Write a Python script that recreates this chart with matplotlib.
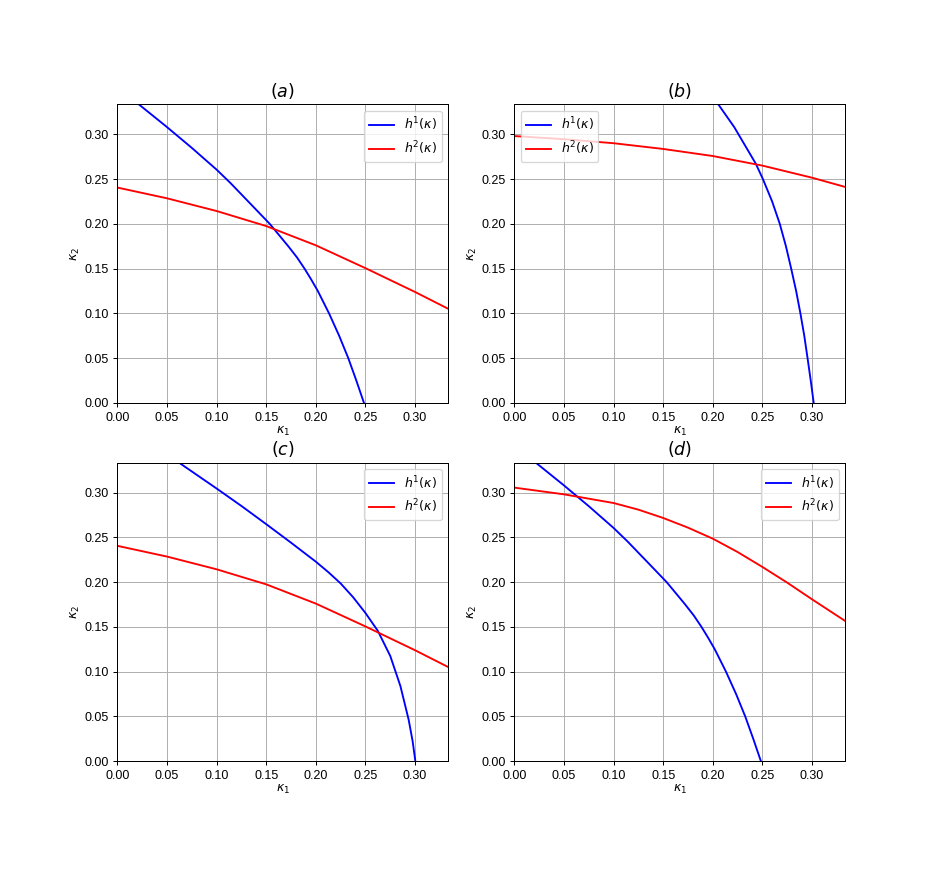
import matplotlib
matplotlib.use("Agg")
import matplotlib.pyplot as plt

plt.rcParams['font.family'] = ['Liberation Sans', 'DejaVu Sans']
plt.rcParams['mathtext.fontset'] = 'dejavusans'

# curve values
# h1 in panels (a) and (d)
h1_ad_x = [0.0217, 0.05, 0.075, 0.10, 0.114, 0.134, 0.1535, 0.1595, 0.1722, 0.1810, 0.1886,
           0.1955, 0.2020, 0.2133, 0.2235, 0.2327, 0.2408, 0.2485]
h1_ad_y = [0.3333, 0.308, 0.2848, 0.2605, 0.2455, 0.2225, 0.200, 0.192, 0.175, 0.1625, 0.150,
           0.1375, 0.125, 0.100, 0.075, 0.050, 0.025, 0.0]

# h2 in panels (a) and (c)
h2_ac_x = [0.0, 0.05, 0.10, 0.15, 0.20, 0.25, 0.30, 0.3333]
h2_ac_y = [0.2405, 0.2285, 0.2143, 0.1975, 0.1760, 0.1505, 0.1239, 0.1052]

# panel (b)
h1_b_x = [0.2056, 0.2216, 0.2433, 0.2505, 0.2598, 0.2675, 0.2737, 0.2790, 0.2840,
          0.2883, 0.2922, 0.2955, 0.2987, 0.3017]
h1_b_y = [0.3333, 0.308, 0.2672, 0.250, 0.225, 0.200, 0.175, 0.150, 0.125,
          0.100, 0.075, 0.050, 0.025, 0.0]
h2_b_x = [0.0, 0.05, 0.10, 0.15, 0.20, 0.25, 0.30, 0.3333]
h2_b_y = [0.298, 0.2945, 0.290, 0.2836, 0.2757, 0.2650, 0.2515, 0.2412]

# panel (c)
h1_c_x = [0.0622, 0.10, 0.125, 0.15, 0.175, 0.20, 0.2125, 0.225, 0.2375, 0.25, 0.2625,
          0.275, 0.2852, 0.2935, 0.2975, 0.3003]
h1_c_y = [0.3333, 0.3045, 0.2850, 0.2647, 0.2440, 0.2228, 0.2112, 0.1985, 0.1832, 0.1655,
          0.1455, 0.1175, 0.0840, 0.0465, 0.0225, 0.0]

# panel (d)
h2_d_x = [0.0, 0.05, 0.10, 0.125, 0.15, 0.175, 0.20, 0.225, 0.25, 0.275, 0.30, 0.3236, 0.3333]
h2_d_y = [0.3055, 0.298, 0.2883, 0.2809, 0.2716, 0.2608, 0.2485, 0.2336, 0.2169, 0.1994,
          0.1808, 0.1637, 0.1567]

panels = [
    ('$(a)$', (h1_ad_x, h1_ad_y), (h2_ac_x, h2_ac_y), 'upper right'),
    ('$(b)$', (h1_b_x, h1_b_y), (h2_b_x, h2_b_y), 'upper left'),
    ('$(c)$', (h1_c_x, h1_c_y), (h2_ac_x, h2_ac_y), 'upper right'),
    ('$(d)$', (h1_ad_x, h1_ad_y), (h2_d_x, h2_d_y), 'upper right'),
]
ticks = [0.0, 0.05, 0.10, 0.15, 0.20, 0.25, 0.30]
tick_labels = ['0.00', '0.05', '0.10', '0.15', '0.20', '0.25', '0.30']

fig, axes = plt.subplots(2, 2, figsize=(939 / 90, 870 / 90), dpi=90)
fig.subplots_adjust(left=0.125, right=0.9, top=0.88, bottom=0.125, hspace=0.2, wspace=0.2)

for ax, (title, h1, h2, loc) in zip(axes.flat, panels):
    ax.plot(h1[0], h1[1], color='blue', label=r'$h^1(\kappa)$')
    ax.plot(h2[0], h2[1], color='red', label=r'$h^2(\kappa)$')
    ax.set_xlim(0, 1 / 3)
    ax.set_ylim(0, 1 / 3)
    ax.set_xticks(ticks)
    ax.set_yticks(ticks)
    ax.set_xticklabels(tick_labels)
    ax.set_yticklabels(tick_labels)
    ax.grid(True)
    ax.set_xlabel(r'$\kappa_1$', labelpad=1)
    ax.set_ylabel(r'$\kappa_2$', labelpad=2)
    ax.set_title(title, fontsize=14)
    ax.legend(loc=loc)

plt.savefig('out.png', dpi=90)
